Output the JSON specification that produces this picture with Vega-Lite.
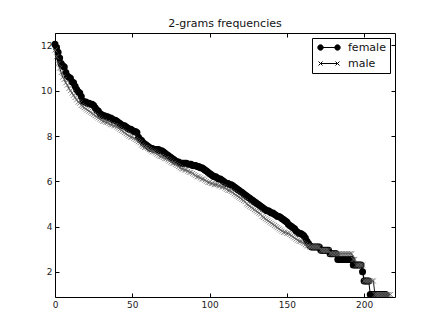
{
  "$schema": "https://vega.github.io/schema/vega-lite/v6.json",
  "width": 340,
  "height": 264,
  "autosize": {"type": "none"},
  "padding": {"left": 55, "top": 33, "right": 44, "bottom": 33},
  "background": "white",
  "title": {"text": "2-grams frequencies", "font": "DejaVu Sans", "fontSize": 11, "fontWeight": "normal", "color": "#111", "offset": 4},
  "data": {"values": [
    {"i":0,"female":12.05,"male":11.8},{"i":1,"female":11.9,"male":11.5},{"i":2,"female":11.7,"male":11.2},{"i":3,"female":11.45,"male":11.0},{"i":4,"female":11.2,"male":10.8},
    {"i":5,"female":11.1,"male":10.6},{"i":6,"female":11.05,"male":10.5},{"i":7,"female":10.8,"male":10.35},{"i":8,"female":10.65,"male":10.25},{"i":9,"female":10.6,"male":10.1},
    {"i":10,"female":10.55,"male":10.0},{"i":11,"female":10.4,"male":9.9},{"i":12,"female":10.35,"male":9.8},{"i":13,"female":10.2,"male":9.7},{"i":14,"female":10.05,"male":9.6},
    {"i":15,"female":9.95,"male":9.5},{"i":16,"female":9.9,"male":9.45},{"i":17,"female":9.75,"male":9.35},{"i":18,"female":9.55,"male":9.3},{"i":19,"female":9.5,"male":9.25},
    {"i":20,"female":9.5,"male":9.2},{"i":21,"female":9.45,"male":9.15},{"i":22,"female":9.45,"male":9.1},{"i":23,"female":9.4,"male":9.05},{"i":24,"female":9.4,"male":9.0},
    {"i":25,"female":9.35,"male":8.95},{"i":26,"female":9.25,"male":8.9},{"i":27,"female":9.15,"male":8.85},{"i":28,"female":9.1,"male":8.8},{"i":29,"female":9.0,"male":8.75},
    {"i":30,"female":8.95,"male":8.7},{"i":31,"female":8.9,"male":8.65},{"i":32,"female":8.9,"male":8.65},{"i":33,"female":8.85,"male":8.6},{"i":34,"female":8.85,"male":8.6},
    {"i":35,"female":8.8,"male":8.55},{"i":36,"female":8.8,"male":8.5},{"i":37,"female":8.75,"male":8.5},{"i":38,"female":8.7,"male":8.45},{"i":39,"female":8.7,"male":8.45},
    {"i":40,"female":8.65,"male":8.4},{"i":41,"female":8.6,"male":8.35},{"i":42,"female":8.55,"male":8.3},{"i":43,"female":8.5,"male":8.25},{"i":44,"female":8.45,"male":8.2},
    {"i":45,"female":8.45,"male":8.15},{"i":46,"female":8.4,"male":8.1},{"i":47,"female":8.35,"male":8.05},{"i":48,"female":8.3,"male":8.0},{"i":49,"female":8.3,"male":7.95},
    {"i":50,"female":8.25,"male":7.95},{"i":51,"female":8.2,"male":7.9},{"i":52,"female":8.2,"male":7.85},{"i":53,"female":8.15,"male":7.8},{"i":54,"female":7.95,"male":7.75},
    {"i":55,"female":7.85,"male":7.7},{"i":56,"female":7.8,"male":7.6},{"i":57,"female":7.7,"male":7.55},{"i":58,"female":7.65,"male":7.5},{"i":59,"female":7.6,"male":7.5},
    {"i":60,"female":7.55,"male":7.45},{"i":61,"female":7.5,"male":7.4},{"i":62,"female":7.45,"male":7.35},{"i":63,"female":7.45,"male":7.3},{"i":64,"female":7.4,"male":7.3},
    {"i":65,"female":7.4,"male":7.25},{"i":66,"female":7.4,"male":7.2},{"i":67,"female":7.4,"male":7.15},{"i":68,"female":7.35,"male":7.1},{"i":69,"female":7.35,"male":7.1},
    {"i":70,"female":7.3,"male":7.05},{"i":71,"female":7.25,"male":7.0},{"i":72,"female":7.2,"male":7.0},{"i":73,"female":7.15,"male":6.95},{"i":74,"female":7.1,"male":6.9},
    {"i":75,"female":7.05,"male":6.85},{"i":76,"female":7.0,"male":6.8},{"i":77,"female":6.95,"male":6.8},{"i":78,"female":6.9,"male":6.75},{"i":79,"female":6.85,"male":6.7},
    {"i":80,"female":6.85,"male":6.65},{"i":81,"female":6.8,"male":6.6},{"i":82,"female":6.8,"male":6.55},{"i":83,"female":6.8,"male":6.55},{"i":84,"female":6.8,"male":6.5},
    {"i":85,"female":6.8,"male":6.5},{"i":86,"female":6.75,"male":6.45},{"i":87,"female":6.75,"male":6.4},{"i":88,"female":6.75,"male":6.4},{"i":89,"female":6.7,"male":6.35},
    {"i":90,"female":6.7,"male":6.3},{"i":91,"female":6.7,"male":6.25},{"i":92,"female":6.65,"male":6.2},{"i":93,"female":6.65,"male":6.2},{"i":94,"female":6.6,"male":6.15},
    {"i":95,"female":6.6,"male":6.1},{"i":96,"female":6.55,"male":6.1},{"i":97,"female":6.5,"male":6.05},{"i":98,"female":6.45,"male":6.0},{"i":99,"female":6.4,"male":5.95},
    {"i":100,"female":6.35,"male":5.95},{"i":101,"female":6.3,"male":5.9},{"i":102,"female":6.25,"male":5.9},{"i":103,"female":6.2,"male":5.85},{"i":104,"female":6.2,"male":5.85},
    {"i":105,"female":6.15,"male":5.85},{"i":106,"female":6.1,"male":5.8},{"i":107,"female":6.1,"male":5.8},{"i":108,"female":6.05,"male":5.75},{"i":109,"female":6.0,"male":5.75},
    {"i":110,"female":5.95,"male":5.7},{"i":111,"female":5.9,"male":5.65},{"i":112,"female":5.9,"male":5.6},{"i":113,"female":5.85,"male":5.6},{"i":114,"female":5.85,"male":5.55},
    {"i":115,"female":5.8,"male":5.5},{"i":116,"female":5.75,"male":5.45},{"i":117,"female":5.7,"male":5.4},{"i":118,"female":5.65,"male":5.35},{"i":119,"female":5.6,"male":5.3},
    {"i":120,"female":5.55,"male":5.25},{"i":121,"female":5.5,"male":5.2},{"i":122,"female":5.45,"male":5.15},{"i":123,"female":5.4,"male":5.1},{"i":124,"female":5.35,"male":5.0},
    {"i":125,"female":5.3,"male":4.95},{"i":126,"female":5.25,"male":4.9},{"i":127,"female":5.2,"male":4.85},{"i":128,"female":5.15,"male":4.8},{"i":129,"female":5.1,"male":4.75},
    {"i":130,"female":5.05,"male":4.7},{"i":131,"female":5.0,"male":4.65},{"i":132,"female":4.95,"male":4.6},{"i":133,"female":4.9,"male":4.55},{"i":134,"female":4.85,"male":4.45},
    {"i":135,"female":4.8,"male":4.4},{"i":136,"female":4.75,"male":4.35},{"i":137,"female":4.7,"male":4.3},{"i":138,"female":4.7,"male":4.25},{"i":139,"female":4.65,"male":4.2},
    {"i":140,"female":4.6,"male":4.15},{"i":141,"female":4.6,"male":4.1},{"i":142,"female":4.55,"male":4.05},{"i":143,"female":4.5,"male":4.0},{"i":144,"female":4.45,"male":3.95},
    {"i":145,"female":4.45,"male":3.9},{"i":146,"female":4.4,"male":3.85},{"i":147,"female":4.35,"male":3.8},{"i":148,"female":4.3,"male":3.75},{"i":149,"female":4.25,"male":3.75},
    {"i":150,"female":4.2,"male":3.7},{"i":151,"female":4.1,"male":3.7},{"i":152,"female":4.05,"male":3.65},{"i":153,"female":4.0,"male":3.6},{"i":154,"female":3.95,"male":3.55},
    {"i":155,"female":3.9,"male":3.5},{"i":156,"female":3.8,"male":3.45},{"i":157,"female":3.75,"male":3.4},{"i":158,"female":3.7,"male":3.35},{"i":159,"female":3.7,"male":3.35},
    {"i":160,"female":3.65,"male":3.3},{"i":161,"female":3.6,"male":3.25},{"i":162,"female":3.5,"male":3.2},{"i":163,"female":3.35,"male":3.15},{"i":164,"female":3.25,"male":3.15},
    {"i":165,"female":3.15,"male":3.1},{"i":166,"female":3.1,"male":3.1},{"i":167,"female":3.1,"male":3.1},{"i":168,"female":3.1,"male":3.1},{"i":169,"female":3.1,"male":3.1},
    {"i":170,"female":3.1,"male":3.1},{"i":171,"female":3.1,"male":3.1},{"i":172,"female":2.95,"male":2.95},{"i":173,"female":2.95,"male":2.95},{"i":174,"female":2.95,"male":2.95},
    {"i":175,"female":2.95,"male":2.95},{"i":176,"female":2.95,"male":2.95},{"i":177,"female":2.95,"male":2.95},{"i":178,"female":2.8,"male":2.8},{"i":179,"female":2.8,"male":2.8},
    {"i":180,"female":2.8,"male":2.8},{"i":181,"female":2.8,"male":2.8},{"i":182,"female":2.8,"male":2.8},{"i":183,"female":2.55,"male":2.8},{"i":184,"female":2.55,"male":2.8},
    {"i":185,"female":2.55,"male":2.8},{"i":186,"female":2.55,"male":2.8},{"i":187,"female":2.55,"male":2.8},{"i":188,"female":2.55,"male":2.8},{"i":189,"female":2.55,"male":2.8},
    {"i":190,"female":2.55,"male":2.8},{"i":191,"female":2.55,"male":2.8},{"i":192,"female":2.55,"male":2.8},{"i":193,"female":2.3,"male":2.55},{"i":194,"female":2.3,"male":2.55},
    {"i":195,"female":2.3,"male":2.3},{"i":196,"female":2.3,"male":2.3},{"i":197,"female":2.3,"male":2.3},{"i":198,"female":2.3,"male":2.3},{"i":199,"female":2.0,"male":2.3},
    {"i":200,"female":1.6,"male":1.6},{"i":201,"female":1.6,"male":1.6},{"i":202,"female":1.6,"male":1.6},{"i":203,"female":1.6,"male":1.6},{"i":204,"female":1.0,"male":1.6},
    {"i":205,"female":1.0,"male":1.6},{"i":206,"female":1.0,"male":1.6},{"i":207,"female":1.0,"male":1.0},{"i":208,"female":1.0,"male":1.0},{"i":209,"female":1.0,"male":1.0},
    {"i":210,"female":1.0,"male":1.0},{"i":211,"female":1.0,"male":1.0},{"i":212,"female":1.0,"male":1.0},{"i":213,"female":1.0,"male":1.0},{"i":214,"female":1.0,"male":1.0},
    {"i":215,"female":null,"male":1.0},{"i":216,"female":null,"male":1.0},{"i":217,"female":null,"male":1.0}
  ]},
  "transform": [
    {"fold": ["female", "male"], "as": ["series", "v"]},
    {"filter": "isValid(datum.v)"}
  ],
  "config": {
    "view": {"stroke": "black", "strokeWidth": 1},
    "axis": {
      "domain": false, "grid": false, "ticks": true, "tickColor": "black", "tickSize": -4, "tickWidth": 1,
      "labelFont": "DejaVu Sans", "labelFontSize": 9, "labelColor": "#222", "labelPadding": 7, "labelFlush": false
    },
    "legend": {
      "orient": "top-right", "offset": 5, "strokeColor": "black", "fillColor": "white", "padding": 4,
      "labelFont": "DejaVu Sans", "labelFontSize": 11, "labelColor": "#111", "symbolSize": 100,
      "symbolStrokeWidth": 1, "rowPadding": 4, "labelOffset": 21
    }
  },
  "resolve": {"axis": {"x": "independent", "y": "independent"}},
  "layer": [
    {
      "transform": [{"filter": "datum.series === 'female'"}],
      "mark": {"type": "line", "color": "black", "strokeWidth": 1},
      "encoding": {
        "x": {"field": "i", "type": "quantitative", "scale": {"domain": [0, 220], "nice": false, "zero": false},
              "axis": {"orient": "bottom", "values": [0, 50, 100, 150, 200], "title": null}},
        "y": {"field": "v", "type": "quantitative", "scale": {"domain": [0.89, 12.55], "nice": false, "zero": false},
              "axis": {"orient": "left", "values": [2, 4, 6, 8, 10, 12], "title": null}}
      }
    },
    {
      "transform": [{"filter": "datum.series === 'female'"}],
      "mark": {"type": "point", "shape": "circle", "filled": true, "color": "black", "size": 49, "opacity": 1},
      "encoding": {
        "x": {"field": "i", "type": "quantitative",
              "axis": {"orient": "top", "values": [0, 50, 100, 150, 200], "labels": false, "title": null}},
        "y": {"field": "v", "type": "quantitative",
              "axis": {"orient": "right", "values": [2, 4, 6, 8, 10, 12], "labels": false, "title": null}}
      }
    },
    {
      "transform": [{"filter": "datum.series === 'male'"}],
      "mark": {"type": "line", "color": "black", "strokeWidth": 0.9},
      "encoding": {
        "x": {"field": "i", "type": "quantitative", "axis": null},
        "y": {"field": "v", "type": "quantitative", "axis": null}
      }
    },
    {
      "transform": [{"filter": "datum.series === 'male'"}],
      "mark": {"type": "point", "shape": "M-1,-1L1,1M-1,1L1,-1", "filled": false, "stroke": "#666", "strokeWidth": 0.8, "size": 25, "opacity": 1},
      "encoding": {
        "x": {"field": "i", "type": "quantitative", "axis": null},
        "y": {"field": "v", "type": "quantitative", "axis": null}
      }
    },
    {
      "mark": {"type": "point", "filled": true, "color": "black", "stroke": "black", "strokeWidth": 1, "size": 0, "opacity": 1},
      "encoding": {
        "x": {"field": "i", "type": "quantitative", "axis": null},
        "y": {"field": "v", "type": "quantitative", "axis": null},
        "shape": {"field": "series", "type": "nominal",
                  "scale": {"domain": ["female", "male"], "range": [
                    "M-0.2,0L3.2,0M-0.74,0A0.54,0.54,0,1,0,0.34,0A0.54,0.54,0,1,0,-0.74,0ZM2.66,0A0.54,0.54,0,1,0,3.74,0A0.54,0.54,0,1,0,2.66,0Z",
                    "M-0.2,0L3.2,0M-0.6,-0.4L0.2,0.4M-0.6,0.4L0.2,-0.4M2.8,-0.4L3.6,0.4M2.8,0.4L3.6,-0.4"
                  ]},
                  "legend": {"title": null}}
      }
    }
  ]
}
